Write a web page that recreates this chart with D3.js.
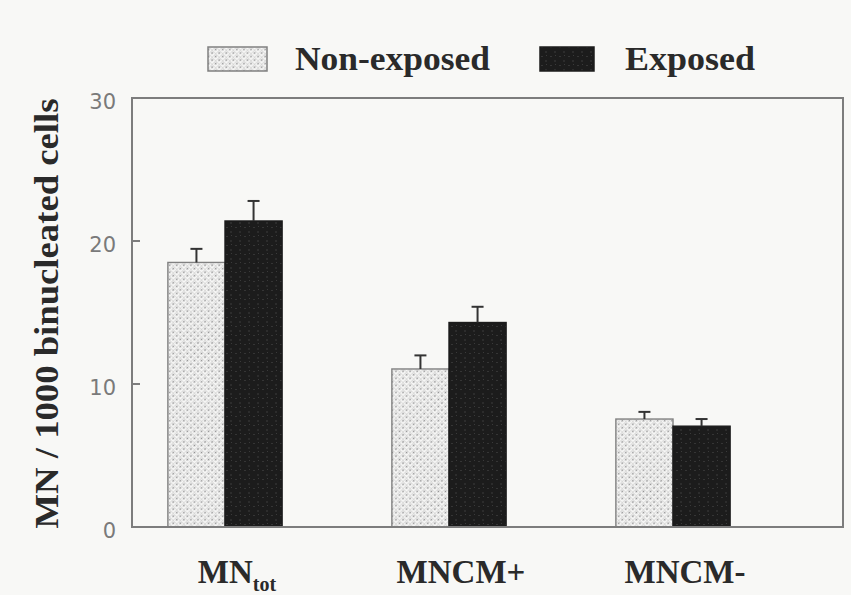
<!DOCTYPE html>
<meta charset="utf-8">
<head>
<style>
body { margin: 0; background: #f8f8f6; }
svg { display: block; background: #f8f8f6; }
.frame { fill: none; stroke: #7d7d7d; stroke-width: 2; }
.tick-label { font: 21px "DejaVu Sans", sans-serif; fill: #7a7a7a; }
.title { font-family: "Liberation Serif", "Times New Roman", serif; font-weight: bold; fill: #2a2a2a; }
.err { stroke: #333; stroke-width: 2; fill: none; }
</style>
</head>
<body>
<svg width="851" height="595"></svg>
<script src="https://d3js.org/d3.v7.min.js"></script>
<script>

var categories = ["MNtot", "MNCM+", "MNCM-"];
var series = ["Non-exposed", "Exposed"];
var nonExposed = [18.5, 11.05, 7.55];
var nonExposedErr = [0.95, 0.95, 0.5];
var exposed = [21.4, 14.3, 7.05];
var exposedErr = [1.4, 1.1, 0.5];
var yTicks = [0, 10, 20, 30];

var svg = d3.select("svg"),
    plotL = 132, plotR = 843, plotT = 98, plotB = 527;

// patterns
var defs = svg.append("defs");
var light = defs.append("pattern")
    .attr("id", "dots")
    .attr("width", 5).attr("height", 5)
    .attr("patternUnits", "userSpaceOnUse")
    .attr("patternTransform", "rotate(45)");
light.append("rect").attr("width", 5).attr("height", 5).attr("fill", "#f7f7f6");
light.append("path").attr("d", "M0,0H5M0,0V5").attr("stroke", "#c4c4c4").attr("stroke-width", 0.9);
light.append("circle").attr("cx", 2.5).attr("cy", 2.5).attr("r", 0.9).attr("fill", "#8f8f8f");

var dark = defs.append("pattern")
    .attr("id", "dark")
    .attr("width", 9).attr("height", 9)
    .attr("patternUnits", "userSpaceOnUse");
dark.append("rect").attr("width", 9).attr("height", 9).attr("fill", "#1c1c1c");
dark.append("rect").attr("x", 1).attr("y", 2).attr("width", 2).attr("height", 1).attr("fill", "#353535");
dark.append("rect").attr("x", 5).attr("y", 6).attr("width", 2).attr("height", 2).attr("fill", "#2c2c2c");
dark.append("rect").attr("x", 6).attr("y", 1).attr("width", 1).attr("height", 1).attr("fill", "#3a3a3a");

var fills = ["url(#dots)", "url(#dark)"];
var strokes = ["#808080", "#1c1c1c"];

var y = d3.scaleLinear().domain([0, 30]).range([plotB, plotT]);

var x = d3.scaleBand()
    .domain(categories)
    .range([113, 785])
    .paddingInner(0.49)
    .paddingOuter(0.245);

var xs = d3.scaleBand().domain(series).range([0, x.bandwidth()]);

var rows = categories.map(function(c, i) {
  return [
    { cat: c, s: series[0], v: nonExposed[i], e: nonExposedErr[i] },
    { cat: c, s: series[1], v: exposed[i], e: exposedErr[i] }
  ];
});
var flat = [].concat.apply([], rows);

// y tick labels and inner ticks
svg.selectAll(".tick-label")
  .data(yTicks)
  .enter().append("text")
    .attr("class", "tick-label")
    .attr("x", 116)
    .attr("y", function(d) { return y(d) + 3; })
    .attr("dy", "0.36em")
    .attr("text-anchor", "end")
    .text(function(d) { return d; });

svg.selectAll(".ytick")
  .data(yTicks.filter(function(d) { return d > 0 && d < 30; }))
  .enter().append("line")
    .attr("x1", plotL).attr("x2", plotL + 8)
    .attr("y1", function(d) { return y(d); })
    .attr("y2", function(d) { return y(d); })
    .attr("stroke", "#7d7d7d").attr("stroke-width", 2);

// bars
svg.selectAll(".bar")
  .data(flat)
  .enter().append("rect")
    .attr("class", "bar")
    .attr("x", function(d) { return x(d.cat) + xs(d.s); })
    .attr("width", xs.bandwidth())
    .attr("y", function(d) { return y(d.v); })
    .attr("height", function(d) { return y(0) - y(d.v); })
    .attr("fill", function(d) { return fills[series.indexOf(d.s)]; })
    .attr("stroke", function(d) { return strokes[series.indexOf(d.s)]; })
    .attr("stroke-width", 1.4);

// error bars (upper only)
var eb = svg.selectAll(".eb")
  .data(flat)
  .enter().append("g");
eb.append("line")
    .attr("class", "err")
    .attr("x1", function(d) { return x(d.cat) + xs(d.s) + xs.bandwidth() / 2; })
    .attr("x2", function(d) { return x(d.cat) + xs(d.s) + xs.bandwidth() / 2; })
    .attr("y1", function(d) { return y(d.v); })
    .attr("y2", function(d) { return y(d.v + d.e); });
eb.append("line")
    .attr("class", "err")
    .attr("x1", function(d) { return x(d.cat) + xs(d.s) + xs.bandwidth() / 2 - 6; })
    .attr("x2", function(d) { return x(d.cat) + xs(d.s) + xs.bandwidth() / 2 + 6; })
    .attr("y1", function(d) { return y(d.v + d.e); })
    .attr("y2", function(d) { return y(d.v + d.e); });

// frame
svg.append("rect")
    .attr("class", "frame")
    .attr("x", plotL).attr("y", plotT)
    .attr("width", plotR - plotL).attr("height", plotB - plotT);

// x category labels
var xl = svg.selectAll(".xlab")
  .data(categories)
  .enter().append("text")
    .attr("class", "title")
    .attr("x", function(d) { return x(d) + x.bandwidth() / 2 + 12; })
    .attr("y", 583)
    .attr("text-anchor", "middle")
    .style("font-size", "33px");
xl.each(function(d) {
  var t = d3.select(this);
  if (d === "MNtot") {
    t.append("tspan").text("MN");
    t.append("tspan").attr("dy", 8).style("font-size", "20px").text("tot");
  } else {
    t.text(d);
  }
});

// y title
svg.append("text")
    .attr("class", "title")
    .attr("transform", "translate(58," + ((plotT + plotB) / 2 + 1) + ") rotate(-90)")
    .attr("text-anchor", "middle")
    .attr("textLength", 430)
    .attr("lengthAdjust", "spacingAndGlyphs")
    .style("font-size", "34px")
    .text("MN / 1000 binucleated cells");

// legend
var legX = [208, 540], legText = [295, 625], legW = [195, 130];
var leg = svg.selectAll(".leg")
  .data(series)
  .enter().append("g");
leg.append("rect")
    .attr("x", function(d, i) { return legX[i]; })
    .attr("y", 47)
    .attr("width", function(d, i) { return i ? 54 : 59; })
    .attr("height", 24)
    .attr("fill", function(d, i) { return fills[i]; })
    .attr("stroke", function(d, i) { return strokes[i]; })
    .attr("stroke-width", 1.5);
leg.append("text")
    .attr("class", "title")
    .attr("x", function(d, i) { return legText[i]; })
    .attr("y", 70)
    .attr("textLength", function(d, i) { return legW[i]; })
    .attr("lengthAdjust", "spacingAndGlyphs")
    .style("font-size", "34px")
    .text(function(d) { return d; });

</script>
</body>
</html>
